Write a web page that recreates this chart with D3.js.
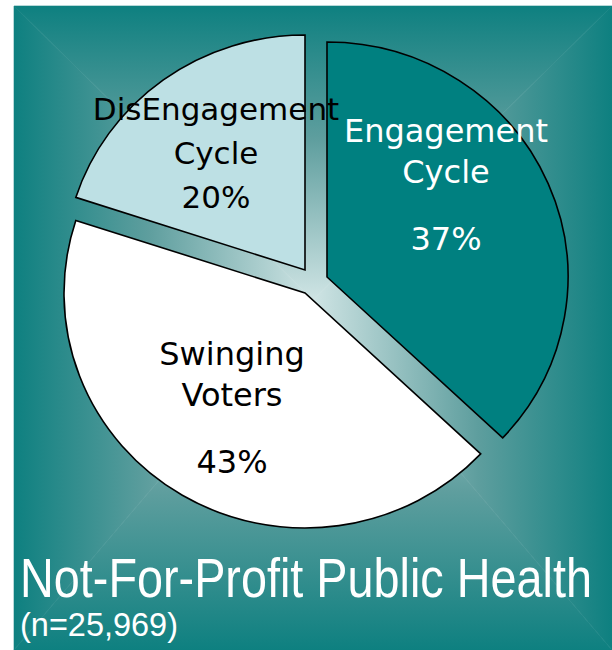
<!DOCTYPE html>
<html>
<head>
<meta charset="utf-8">
<script src="https://cdn.jsdelivr.net/npm/d3@7"></script>
<style>
  html, body { margin: 0; padding: 0; background: #fff; }
  svg { display: block; }
</style>
</head>
<body>
<div id="chart"></div>
<script>
"use strict";

// data
var segments = ["Engagement", "Swinging", "DisEngagement"];
var shares = [37, 43, 20];
var labelLines = [["Engagement", "Cycle"], ["Swinging", "Voters"], ["DisEngagement", "Cycle"]];
var title = "Not-For-Profit Public Health";
var subtitle = "(n=25,969)";

// layout
var W = 612, H = 650;
var panel = { x: 14, y: 6, w: 598, h: 644, cx: 313, cy: 300 };
var pieCenter = { x: 310, y: 282 };
var radius = 235, xStretch = 241 / 235;
var fills = ["#008080", "#ffffff", "#bde0e4"];
var textColors = ["#ffffff", "#000000", "#000000"];
// explosion offsets of each slice, and label anchors relative to the pie centre
var explode = [{ dx: 17, dy: -5 }, { dx: -5, dy: 11 }, { dx: -5, dy: -12 }];
var labelPos = [
  { x: 136, y: -140, gap: 41, pctGap: 67, size: 32 },
  { x: -78, y: 83, gap: 41, pctGap: 67, size: 32 },
  { x: -94, y: -162, gap: 44, pctGap: 44, size: 31 }
];

var svg = d3.select("#chart").append("svg").attr("width", W).attr("height", H);
var defs = svg.append("defs");

// rectangular "from centre" gradient built from four triangles
var edge = "#0e8080", mid = "#5e9e9e", centre = "#cfe4e4";
var x0 = panel.x, y0 = panel.y, x1 = panel.x + panel.w, y1 = panel.y + panel.h;
var tris = [
  { pts: [[x0, y0], [x1, y0], [panel.cx, panel.cy]], g: [panel.cx, y0, panel.cx, panel.cy] },
  { pts: [[x1, y0], [x1, y1], [panel.cx, panel.cy]], g: [x1, panel.cy, panel.cx, panel.cy] },
  { pts: [[x1, y1], [x0, y1], [panel.cx, panel.cy]], g: [panel.cx, y1, panel.cx, panel.cy] },
  { pts: [[x0, y1], [x0, y0], [panel.cx, panel.cy]], g: [x0, panel.cy, panel.cx, panel.cy] }
];
tris.forEach(function(t, i) {
  var lg = defs.append("linearGradient").attr("id", "bg" + i)
    .attr("gradientUnits", "userSpaceOnUse")
    .attr("x1", t.g[0]).attr("y1", t.g[1]).attr("x2", t.g[2]).attr("y2", t.g[3]);
  lg.append("stop").attr("offset", 0).attr("stop-color", edge);
  lg.append("stop").attr("offset", 0.45).attr("stop-color", mid);
  lg.append("stop").attr("offset", 1).attr("stop-color", centre);
  svg.append("polygon")
    .attr("points", t.pts.map(function(p) { return p.join(","); }).join(" "))
    .attr("fill", "url(#bg" + i + ")")
    .attr("stroke", "url(#bg" + i + ")").attr("stroke-width", 0.6);
});

// pie
var pie = d3.pie().sort(null).value(function(d) { return d; });
var arc = d3.arc().innerRadius(0).outerRadius(radius);
var arcs = pie(shares);

var slices = svg.selectAll(".slice").data(arcs).enter().append("g")
  .attr("class", "slice")
  .attr("transform", function(d, i) {
    return "translate(" + (pieCenter.x + explode[i].dx) + "," + (pieCenter.y + explode[i].dy) + ")";
  });

slices.append("path")
  .attr("d", arc)
  .attr("transform", "scale(" + xStretch + ",1)")
  .attr("fill", function(d, i) { return fills[i]; })
  .attr("stroke", "#000")
  .attr("stroke-width", 1.6)
  .attr("vector-effect", "non-scaling-stroke")
  .attr("stroke-linejoin", "miter");

// labels
var labels = svg.selectAll(".label").data(arcs).enter().append("text")
  .attr("class", "label")
  .attr("text-anchor", "middle")
  .attr("font-family", "'DejaVu Sans', Verdana, sans-serif")
  .attr("font-size", function(d, i) { return labelPos[i].size; })
  .attr("fill", function(d, i) { return textColors[i]; });

labels.each(function(d, i) {
  var t = d3.select(this), p = labelPos[i];
  var x = pieCenter.x + p.x, y = pieCenter.y + p.y;
  labelLines[i].forEach(function(line, k) {
    t.append("tspan").attr("x", x).attr("y", y + k * p.gap).text(line);
  });
  t.append("tspan").attr("x", x)
    .attr("y", y + (labelLines[i].length - 1) * p.gap + p.pctGap)
    .text(d.data + "%");
});

// title
svg.append("text")
  .attr("x", 20).attr("y", 597)
  .attr("font-family", "'Liberation Sans Narrow', 'Arial Narrow', 'Liberation Sans', sans-serif")
  .attr("font-size", 56)
  .attr("fill", "#fff")
  .attr("textLength", 572).attr("lengthAdjust", "spacingAndGlyphs")
  .text(title);

svg.append("text")
  .attr("x", 20).attr("y", 636)
  .attr("font-family", "'Liberation Sans Narrow', 'Arial Narrow', 'Liberation Sans', sans-serif")
  .attr("font-size", 34)
  .attr("fill", "#fff")
  .attr("textLength", 158).attr("lengthAdjust", "spacingAndGlyphs")
  .text(subtitle);
</script>
</body>
</html>
